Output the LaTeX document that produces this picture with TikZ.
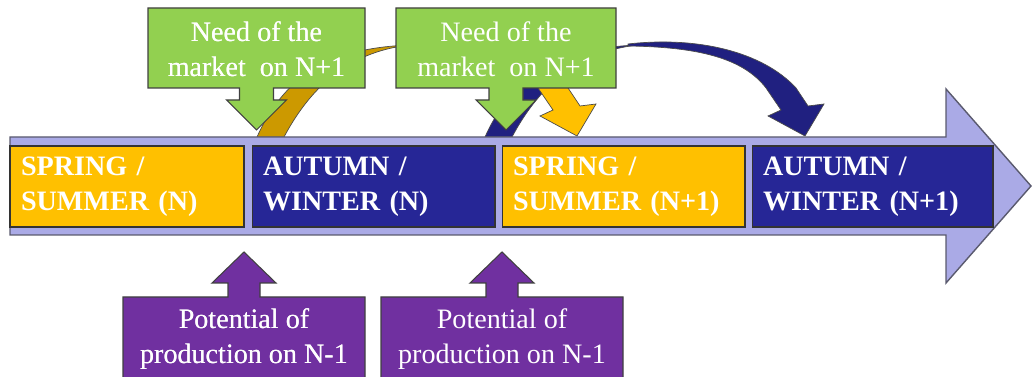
\documentclass[tikz,border=0pt]{standalone}
\usepackage{fontspec}
\setmainfont{Liberation Serif}
\definecolor{lavender}{RGB}{170,170,230}
\definecolor{lavenderline}{RGB}{90,90,110}
\definecolor{seasonyellow}{RGB}{255,192,0}
\definecolor{seasonnavy}{RGB}{38,38,150}
\definecolor{golden}{RGB}{204,153,0}
\definecolor{flownavy}{RGB}{32,32,128}
\definecolor{needgreen}{RGB}{146,208,80}
\definecolor{prodpurple}{RGB}{112,48,160}
\tikzset{
  every node/.style={font=\fontsize{16}{19.8}\selectfont,text=white},
  season/.style={
    draw=black!80,
    line width=0.6pt,
    minimum height=1.62cm,
    inner xsep=0.22cm,
    inner ysep=0pt,
    align=left,
    font=\bfseries\fontsize{16}{19.8}\selectfont
  },
  callout/.style={draw=black!75,line width=0.6pt,line join=miter},
  flow/.style={draw=black!70,line width=0.4pt}
}
% down arrow callout: centre x, half width of the box
\newcommand{\needcallout}[2]{%
  \filldraw[callout,fill=needgreen]
    ({#1-#2},8) -- ({#1+#2},8) -- ({#1+#2},88) -- ({#1+17},88) -- ({#1+17},100)
    -- ({#1+30},100) -- (#1,130) -- ({#1-30},100) -- ({#1-17},100) -- ({#1-17},88)
    -- ({#1-#2},88) -- cycle;
}
% up arrow callout: centre x
\newcommand{\prodcallout}[1]{%
  \filldraw[callout,fill=prodpurple]
    ({#1-121},390) -- ({#1-121},297) -- ({#1-16},297) -- ({#1-16},283) -- ({#1-32},283)
    -- (#1,252) -- ({#1+32},283) -- ({#1+16},283) -- ({#1+16},297) -- ({#1+121},297)
    -- ({#1+121},390) -- cycle;
}
% curved arrow from one season to the same season a year later
\newcommand{\curvedflow}[3]{%
  \begin{scope}[shift={(#1,0)}]
    \filldraw[flow,fill=#2] (257,137) .. controls (285,75) and (330,48) .. (410,45)
      .. controls (345,52) and (308,92) .. (284,137) -- cycle;
    \filldraw[flow,fill=#3] (400,44) .. controls (470,36) and (535,52) .. (568,88)
      -- (580,106) -- (596,104) -- (577,136) -- (540,116) -- (553,110) -- (538,88)
      .. controls (515,58) and (470,47) .. (400,46) -- cycle;
  \end{scope}
}

\begin{document}
\begin{tikzpicture}[x=0.02cm,y=-0.02cm]
  \useasboundingbox (0,0) rectangle (1033,377);
  \clip (0,0) rectangle (1033,377);

  % Curved arrows, behind everything else.
  \curvedflow{228}{flownavy}{flownavy}
  \curvedflow{0}{golden}{seasonyellow}

  % Time line.
  \draw[fill=lavender,draw=lavenderline,line width=0.8pt]
    (10,137) -- (946,137) -- (946,89) -- (1031,186) -- (946,283) -- (946,235)
    -- (10,235) -- cycle;

  % Seasons.
  \node[season,fill=seasonyellow,text width=4.24cm] (springn) at (127,186.5)
    {SPRING /\\SUMMER (N)};
  \node[season,fill=seasonnavy,text width=4.42cm] (autumnn) at (373.5,186.5)
    {AUTUMN /\\WINTER (N)};
  \node[season,fill=seasonyellow,text width=4.42cm] (springnext) at (623.5,186.5)
    {SPRING /\\SUMMER (N+1)};
  \node[season,fill=seasonnavy,text width=4.38cm] (autumnnext) at (872.5,186.5)
    {AUTUMN /\\WINTER (N+1)};

  % Market needs above the line.
  \foreach \cx/\hw in {256.5/108.5,506/110}
    \needcallout{\cx}{\hw}
  \node[align=center] (needn) at (256.5,49) {Need of the\\market~ on N+1};
  \node[align=center] (neednext) at (506,49) {Need of the\\market~ on N+1};

  % Production potential below the line.
  \foreach \cx in {244,502}
    \prodcallout{\cx}
  \node[align=center] (prodn) at (244,339) {Potential of\\production on N-1};
  \node[align=center] (prodnext) at (502,339) {Potential of\\production on N-1};
\end{tikzpicture}
\end{document}
